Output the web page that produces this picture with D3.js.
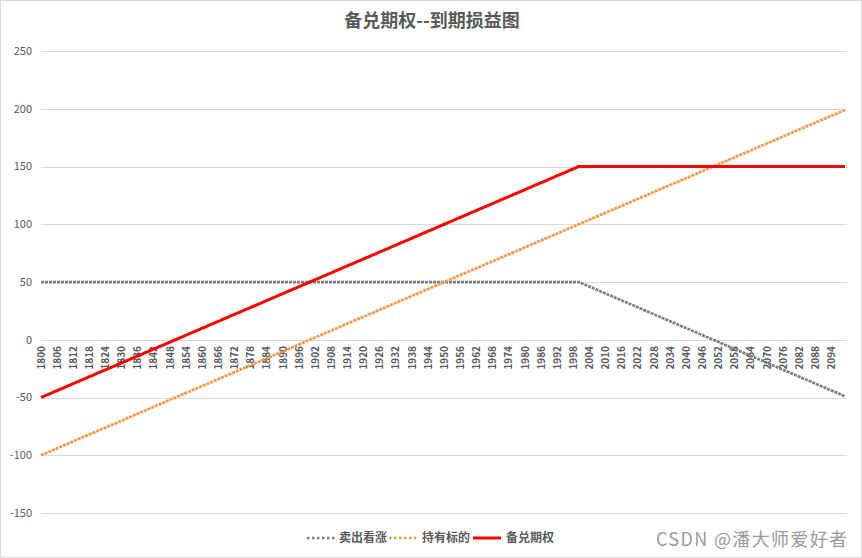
<!DOCTYPE html>
<html>
<head>
<meta charset="utf-8">
<script src="https://cdn.jsdelivr.net/npm/d3@7"></script>
<style>
html,body{margin:0;padding:0;background:#fff;}
svg{display:block;}
</style>
</head>
<body>
<svg id="chart" width="862" height="558"></svg>
<script>
const title = "备兑期权--到期损益图";
const seriesNames = ["卖出看涨", "持有标的", "备兑期权"];
const years = d3.range(1800, 2100);
const yTicks = [-150, -100, -50, 0, 50, 100, 150, 200, 250];

const sellCall = [
50,50,50,50,50,50,50,50,50,50,50,50,50,50,50,50,50,50,50,50,
50,50,50,50,50,50,50,50,50,50,50,50,50,50,50,50,50,50,50,50,
50,50,50,50,50,50,50,50,50,50,50,50,50,50,50,50,50,50,50,50,
50,50,50,50,50,50,50,50,50,50,50,50,50,50,50,50,50,50,50,50,
50,50,50,50,50,50,50,50,50,50,50,50,50,50,50,50,50,50,50,50,
50,50,50,50,50,50,50,50,50,50,50,50,50,50,50,50,50,50,50,50,
50,50,50,50,50,50,50,50,50,50,50,50,50,50,50,50,50,50,50,50,
50,50,50,50,50,50,50,50,50,50,50,50,50,50,50,50,50,50,50,50,
50,50,50,50,50,50,50,50,50,50,50,50,50,50,50,50,50,50,50,50,
50,50,50,50,50,50,50,50,50,50,50,50,50,50,50,50,50,50,50,50,
50,49,48,47,46,45,44,43,42,41,40,39,38,37,36,35,34,33,32,31,
30,29,28,27,26,25,24,23,22,21,20,19,18,17,16,15,14,13,12,11,
10,9,8,7,6,5,4,3,2,1,0,-1,-2,-3,-4,-5,-6,-7,-8,-9,
-10,-11,-12,-13,-14,-15,-16,-17,-18,-19,-20,-21,-22,-23,-24,-25,-26,-27,-28,-29,
-30,-31,-32,-33,-34,-35,-36,-37,-38,-39,-40,-41,-42,-43,-44,-45,-46,-47,-48,-49
];

const holdUnderlying = [
-100,-99,-98,-97,-96,-95,-94,-93,-92,-91,-90,-89,-88,-87,-86,-85,-84,-83,-82,-81,
-80,-79,-78,-77,-76,-75,-74,-73,-72,-71,-70,-69,-68,-67,-66,-65,-64,-63,-62,-61,
-60,-59,-58,-57,-56,-55,-54,-53,-52,-51,-50,-49,-48,-47,-46,-45,-44,-43,-42,-41,
-40,-39,-38,-37,-36,-35,-34,-33,-32,-31,-30,-29,-28,-27,-26,-25,-24,-23,-22,-21,
-20,-19,-18,-17,-16,-15,-14,-13,-12,-11,-10,-9,-8,-7,-6,-5,-4,-3,-2,-1,
0,1,2,3,4,5,6,7,8,9,10,11,12,13,14,15,16,17,18,19,
20,21,22,23,24,25,26,27,28,29,30,31,32,33,34,35,36,37,38,39,
40,41,42,43,44,45,46,47,48,49,50,51,52,53,54,55,56,57,58,59,
60,61,62,63,64,65,66,67,68,69,70,71,72,73,74,75,76,77,78,79,
80,81,82,83,84,85,86,87,88,89,90,91,92,93,94,95,96,97,98,99,
100,101,102,103,104,105,106,107,108,109,110,111,112,113,114,115,116,117,118,119,
120,121,122,123,124,125,126,127,128,129,130,131,132,133,134,135,136,137,138,139,
140,141,142,143,144,145,146,147,148,149,150,151,152,153,154,155,156,157,158,159,
160,161,162,163,164,165,166,167,168,169,170,171,172,173,174,175,176,177,178,179,
180,181,182,183,184,185,186,187,188,189,190,191,192,193,194,195,196,197,198,199
];

const coveredCall = [
-50,-49,-48,-47,-46,-45,-44,-43,-42,-41,-40,-39,-38,-37,-36,-35,-34,-33,-32,-31,
-30,-29,-28,-27,-26,-25,-24,-23,-22,-21,-20,-19,-18,-17,-16,-15,-14,-13,-12,-11,
-10,-9,-8,-7,-6,-5,-4,-3,-2,-1,0,1,2,3,4,5,6,7,8,9,
10,11,12,13,14,15,16,17,18,19,20,21,22,23,24,25,26,27,28,29,
30,31,32,33,34,35,36,37,38,39,40,41,42,43,44,45,46,47,48,49,
50,51,52,53,54,55,56,57,58,59,60,61,62,63,64,65,66,67,68,69,
70,71,72,73,74,75,76,77,78,79,80,81,82,83,84,85,86,87,88,89,
90,91,92,93,94,95,96,97,98,99,100,101,102,103,104,105,106,107,108,109,
110,111,112,113,114,115,116,117,118,119,120,121,122,123,124,125,126,127,128,129,
130,131,132,133,134,135,136,137,138,139,140,141,142,143,144,145,146,147,148,149,
150,150,150,150,150,150,150,150,150,150,150,150,150,150,150,150,150,150,150,150,
150,150,150,150,150,150,150,150,150,150,150,150,150,150,150,150,150,150,150,150,
150,150,150,150,150,150,150,150,150,150,150,150,150,150,150,150,150,150,150,150,
150,150,150,150,150,150,150,150,150,150,150,150,150,150,150,150,150,150,150,150,
150,150,150,150,150,150,150,150,150,150,150,150,150,150,150,150,150,150,150,150
];

const colors = ["#7f7f7f", "#f79646", "#ff0000"];
const seriesData = [sellCall, holdUnderlying, coveredCall];

const svg = d3.select("#chart");
const W = 862, H = 558;
const font = "'Noto Sans CJK SC', 'Noto Sans', sans-serif";

svg.append("rect").attr("x", 0.5).attr("y", 0.5).attr("width", W - 1).attr("height", H - 1)
  .attr("fill", "#fff").attr("stroke", "#d9d9d9");

const plotLeft = 41, plotRight = 847;
const x = d3.scalePoint().domain(years).range([41, 845]);
const y = d3.scaleLinear().domain([-150, 250]).range([513, 51]);

// gridlines
svg.append("g").selectAll("line").data(yTicks).join("line")
  .attr("x1", plotLeft).attr("x2", plotRight)
  .attr("y1", d => Math.round(y(d)) + 0.5).attr("y2", d => Math.round(y(d)) + 0.5)
  .attr("stroke", "#d9d9d9").attr("stroke-width", 1);

// y labels
svg.append("g").selectAll("text").data(yTicks).join("text")
  .attr("x", 32).attr("y", d => y(d)).attr("dy", "0.35em")
  .attr("text-anchor", "end")
  .attr("font-family", font).attr("font-size", 11).attr("fill", "#595959")
  .text(d => d);

// x labels (every 6th year), at the zero line
const labelYears = years.filter((d, i) => i % 6 === 0);
svg.append("g").selectAll("text").data(labelYears).join("text")
  .attr("transform", d => `translate(${x(d) + 3.5},346) rotate(-90)`)
  .attr("text-anchor", "end")
  .attr("font-family", font).attr("font-size", 10).attr("font-weight", "bold")
  .attr("fill", "#595959")
  .text(d => d);

// lines
const line = d3.line().x((d, i) => x(years[i])).y(d => y(d));
const dash = ["3,1", "3,1", null];
const widths = [2.75, 2.75, 3];
seriesData.forEach((s, k) => {
  svg.append("path").datum(s)
    .attr("d", line)
    .attr("fill", "none")
    .attr("stroke", colors[k])
    .attr("stroke-width", widths[k])
    .attr("stroke-dasharray", dash[k])
    .attr("stroke-linejoin", "round");
});

// title
svg.append("text").attr("x", 432).attr("y", 27)
  .attr("text-anchor", "middle")
  .attr("font-family", font).attr("font-size", 18).attr("font-weight", "bold")
  .attr("fill", "#595959").text(title);

// legend
const legendItems = [
  {x: 307, tx: 339},
  {x: 389, tx: 422},
  {x: 473, tx: 506}
];
const lg = svg.append("g");
seriesNames.forEach((name, k) => {
  const it = legendItems[k];
  lg.append("line").attr("x1", it.x).attr("x2", it.x + 28)
    .attr("y1", 538).attr("y2", 538)
    .attr("stroke", colors[k]).attr("stroke-width", k === 2 ? 3 : 2.5)
    .attr("stroke-dasharray", k === 2 ? null : "2.5,2.5");
  lg.append("text").attr("x", it.tx).attr("y", 538).attr("dy", "0.35em")
    .attr("font-family", font).attr("font-size", 12).attr("font-weight", "bold")
    .attr("fill", "#595959").text(name);
});

// watermark
svg.append("text").attr("x", 656).attr("y", 546)
  .attr("text-anchor", "start")
  .attr("font-family", font).attr("font-size", 18)
  .attr("textLength", 191).attr("lengthAdjust", "spacing")
  .attr("fill", "#9a9a9a").text("CSDN @潘大师爱好者");
</script>
</body>
</html>
